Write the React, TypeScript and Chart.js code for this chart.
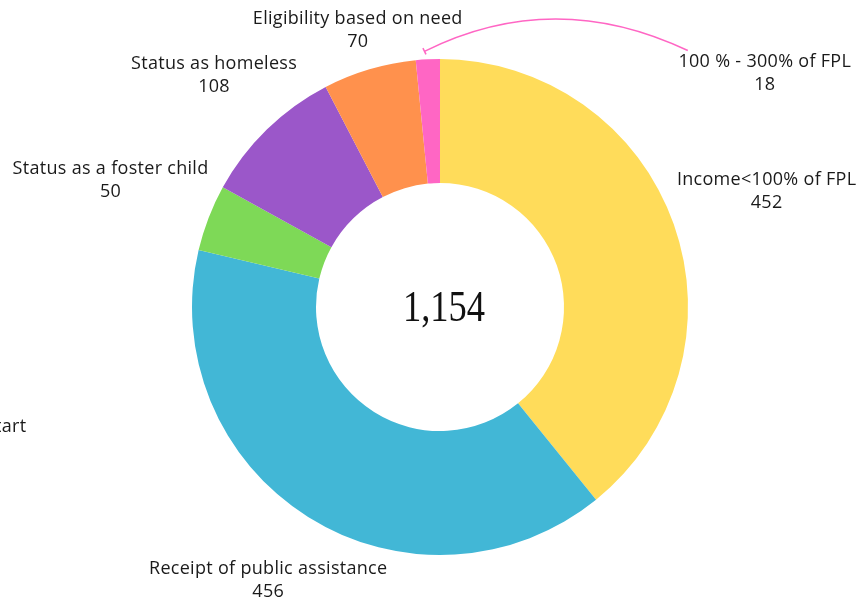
import React, { useEffect, useRef } from "react";
import { Chart, registerables } from "chart.js";

Chart.register(...registerables);

const categories = [
  "Income<100% of FPL",
  "Receipt of public assistance",
  "Transitioned from Early Head Start",
  "Status as a foster child",
  "Status as homeless",
  "Eligibility based on need",
  "100 % - 300% of FPL",
];
const values = [452, 456, 0, 50, 108, 70, 18];
const colors = ["#FFDC5A", "#42B7D6", "#CCCCCC", "#7ED957", "#9B57C9", "#FF914D", "#FF66C4"];
const centerLabel = "1,154";

// label placement: extra distance beyond outer radius, angle shift (deg) from slice middle
const labelExtra = [98.5, 75, 331.1, 105, 75.5, 41, 152];
const labelShift = [0, 0, -26.4, 0, 0, 0, 57.1];
const leaderIndex = 6;

const LABEL_FONT = "18px 'Open Sans'";

const labelPlugin = {
  id: "sliceLabels",
  afterDraw(chart: any) {
    const ctx = chart.ctx;
    const meta = chart.getDatasetMeta(0);
    ctx.save();
    meta.data.forEach((arc: any, i: number) => {
      const p = arc.getProps(["x", "y", "startAngle", "endAngle", "outerRadius"], true);
      const mid = (p.startAngle + p.endAngle) / 2;
      const ang = mid + (labelShift[i] * Math.PI) / 180;
      const d = p.outerRadius + labelExtra[i];
      const lx = p.x + Math.cos(ang) * d;
      const ly = p.y + Math.sin(ang) * d;
      ctx.font = LABEL_FONT;
      (ctx as any).letterSpacing = "0.3px";
      ctx.fillStyle = "#1a1a1a";
      ctx.textAlign = "center";
      ctx.textBaseline = "middle";
      ctx.fillText(categories[i], lx, ly - 11.5);
      ctx.fillText(String(values[i]), lx, ly + 11.5);

      if (i === leaderIndex) {
        const ex = p.x + Math.cos(mid) * (p.outerRadius + 8);
        const ey = p.y + Math.sin(mid) * (p.outerRadius + 8);
        const sx = lx - 77;
        const sy = ly - 23;
        const cx = (sx + ex) / 2 - 4;
        const cy = (sy + ey) / 2 - 64;
        ctx.strokeStyle = colors[i];
        ctx.lineWidth = 1.5;
        ctx.beginPath();
        ctx.moveTo(sx, sy);
        ctx.quadraticCurveTo(cx, cy, ex - 3, ey);
        ctx.stroke();
        let tx = ex - 3 - cx;
        let ty = ey - cy;
        const len = Math.hypot(tx, ty);
        tx /= len;
        ty /= len;
        ctx.beginPath();
        ctx.moveTo(ex - 3 - ty * 3.5, ey + tx * 3.5);
        ctx.lineTo(ex - 3 + ty * 3.5, ey - tx * 3.5);
        ctx.stroke();
      }
    });
    // center total
    const a0 = meta.data[0];
    (ctx as any).letterSpacing = "0px";
    ctx.font = "44px 'Liberation Serif'";
    ctx.fillStyle = "#111";
    ctx.textAlign = "center";
    ctx.textBaseline = "middle";
    ctx.translate(a0.x + 4, a0.y + 2);
    ctx.scale(0.83, 1);
    ctx.fillText(centerLabel, 0, 0);
    ctx.restore();
  },
};

export default function App() {
  const ref = useRef<HTMLCanvasElement | null>(null);
  useEffect(() => {
    if (!ref.current) return;
    const chart = new Chart(ref.current, {
      type: "doughnut",
      data: {
        labels: categories,
        datasets: [
          {
            data: values,
            backgroundColor: colors,
            borderWidth: 0,
          },
        ],
      },
      options: {
        responsive: false,
        animation: false,
        cutout: "50%",
        layout: { padding: { left: 192, right: 179, top: 59, bottom: 46 } },
        plugins: {
          legend: { display: false },
          tooltip: { enabled: false },
        },
      },
      plugins: [labelPlugin],
    });
    return () => chart.destroy();
  }, []);
  return (
    <div style={{ position: "absolute", left: 0, top: 0, width: 867, height: 601, background: "#fff" }}>
      <canvas ref={ref} width={867} height={601} style={{ display: "block" }} />
    </div>
  );
}
